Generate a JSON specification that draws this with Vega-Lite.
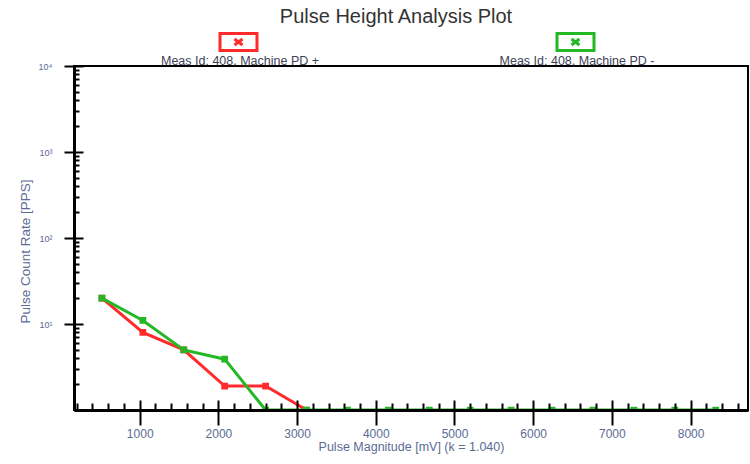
{
  "$schema": "https://vega.github.io/schema/vega-lite/v6.json",
  "width": 674,
  "height": 344,
  "autosize": {"type": "none"},
  "padding": {"left": 74, "top": 66, "right": 2, "bottom": 54},
  "background": "white",
  "title": {"text": "Pulse Height Analysis Plot", "fontSize": 20, "font": "Liberation Sans", "fontWeight": "normal", "color": "#333333", "offset": 22, "anchor": "middle", "dx": -15},
  "config": {
    "view": {"stroke": "#000000", "strokeWidth": 2},
    "font": "Liberation Sans"
  },
  "data": {
    "values": [
      {"mag": 520, "rate": 20, "series": "Meas Id: 408, Machine PD +"},
      {"mag": 1040, "rate": 8, "series": "Meas Id: 408, Machine PD +"},
      {"mag": 1560, "rate": 5, "series": "Meas Id: 408, Machine PD +"},
      {"mag": 2080, "rate": 1.9, "series": "Meas Id: 408, Machine PD +"},
      {"mag": 2600, "rate": 1.9, "series": "Meas Id: 408, Machine PD +"},
      {"mag": 3120, "rate": 1, "series": "Meas Id: 408, Machine PD +"},
      {"mag": 520, "rate": 20, "series": "Meas Id: 408, Machine PD -"},
      {"mag": 1040, "rate": 11, "series": "Meas Id: 408, Machine PD -"},
      {"mag": 1560, "rate": 5, "series": "Meas Id: 408, Machine PD -"},
      {"mag": 2080, "rate": 3.9, "series": "Meas Id: 408, Machine PD -"},
      {"mag": 2600, "rate": 1, "series": "Meas Id: 408, Machine PD -"},
      {"mag": 3120, "rate": 1, "series": "Meas Id: 408, Machine PD -"},
      {"mag": 3640, "rate": 1, "series": "Meas Id: 408, Machine PD -"},
      {"mag": 4160, "rate": 1, "series": "Meas Id: 408, Machine PD -"},
      {"mag": 4680, "rate": 1, "series": "Meas Id: 408, Machine PD -"},
      {"mag": 5200, "rate": 1, "series": "Meas Id: 408, Machine PD -"},
      {"mag": 5720, "rate": 1, "series": "Meas Id: 408, Machine PD -"},
      {"mag": 6240, "rate": 1, "series": "Meas Id: 408, Machine PD -"},
      {"mag": 6760, "rate": 1, "series": "Meas Id: 408, Machine PD -"},
      {"mag": 7280, "rate": 1, "series": "Meas Id: 408, Machine PD -"},
      {"mag": 7800, "rate": 1, "series": "Meas Id: 408, Machine PD -"},
      {"mag": 8320, "rate": 1, "series": "Meas Id: 408, Machine PD -"}
    ]
  },
  "resolve": {"axis": {"x": "independent", "y": "independent"}},
  "layer": [
    {
      "mark": {"type": "line", "strokeWidth": 3, "clip": true},
      "encoding": {
        "x": {
          "field": "mag", "type": "quantitative",
          "scale": {"domain": [165, 8730], "nice": false, "zero": false},
          "axis": {
            "orient": "bottom", "title": null, "labels": false, "grid": false, "zindex": 1,
            "values": [200,400,600,800,1000,1200,1400,1600,1800,2000,2200,2400,2600,2800,3000,3200,3400,3600,3800,4000,4200,4400,4600,4800,5000,5200,5400,5600,5800,6000,6200,6400,6600,6800,7000,7200,7400,7600,7800,8000,8200,8400,8600],
            "domainColor": "#000000", "domainWidth": 3, "tickColor": "#000000", "tickWidth": 2,
            "tickSize": {"condition": {"test": "datum.value % 1000 == 0", "value": -10}, "value": -7}
          }
        },
        "y": {
          "field": "rate", "type": "quantitative",
          "scale": {"type": "log", "domain": [1, 10000], "nice": false},
          "axis": {
            "orient": "left", "title": null, "labels": false, "grid": false, "zindex": 1,
            "values": [1,2,3,4,5,6,7,8,9,10,20,30,40,50,60,70,80,90,100,200,300,400,500,600,700,800,900,1000,2000,3000,4000,5000,6000,7000,8000,9000,10000],
            "domainColor": "#000000", "domainWidth": 3, "tickColor": "#000000", "tickWidth": 2,
            "tickSize": {"condition": {"test": "indexof([1,10,100,1000,10000], datum.value) >= 0", "value": -9}, "value": -5}
          }
        },
        "color": {
          "field": "series", "type": "nominal",
          "scale": {"domain": ["Meas Id: 408, Machine PD +", "Meas Id: 408, Machine PD -"], "range": ["#ff2b2b", "#25b825"]},
          "legend": {
            "orient": "none", "legendX": 153, "legendY": -17, "direction": "horizontal", "columns": 2,
            "title": null,
            "symbolType": "M-1.85,-2.7H1.85V-1.0H-1.85Z M-0.4,-2.15L0.4,-1.55 M0.4,-2.15L-0.4,-1.55",
            "symbolSize": 400, "symbolStrokeWidth": 3, "symbolFillColor": "white",
            "labelAlign": "center", "labelBaseline": "middle", "labelOffset": -10,
            "labelFontSize": 12.5, "labelColor": "#3d4256", "labelLimit": 400,
            "columnPadding": 179
          }
        }
      }
    },
    {
      "mark": {"type": "point", "shape": "square", "filled": false, "strokeWidth": 3, "size": 14, "opacity": 1, "clip": true},
      "encoding": {
        "x": {
          "field": "mag", "type": "quantitative",
          "axis": {
            "orient": "bottom", "title": "Pulse Magnitude [mV] (k = 1.040)", "grid": false, "zindex": 1,
            "values": [1000,2000,3000,4000,5000,6000,7000,8000], "format": "d",
            "domain": false, "tickColor": "#000000", "tickWidth": 2, "tickSize": 15,
            "labelFontSize": 12, "labelColor": "#5b6b95", "labelPadding": 3,
            "titleFontSize": 12.5, "titleFontWeight": "normal", "titleColor": "#5b6b95", "titlePadding": 1
          }
        },
        "y": {
          "field": "rate", "type": "quantitative",
          "axis": {
            "orient": "left", "title": "Pulse Count Rate [PPS]", "grid": false, "zindex": 1,
            "values": [10, 100, 1000, 10000],
            "labelExpr": "'10' + ['⁰','¹','²','³','⁴'][round(log(datum.value)/LN10)]",
            "domain": false, "tickColor": "#000000", "tickWidth": 2, "tickSize": 10,
            "labelFontSize": 9, "labelColor": "#5b6b95", "labelPadding": 12,
            "titleFontSize": 13.5, "titleFontWeight": "normal", "titleColor": "#5b6b95", "titlePadding": 6, "titleY": 185
          }
        },
        "color": {"field": "series", "type": "nominal"}
      }
    }
  ]
}
